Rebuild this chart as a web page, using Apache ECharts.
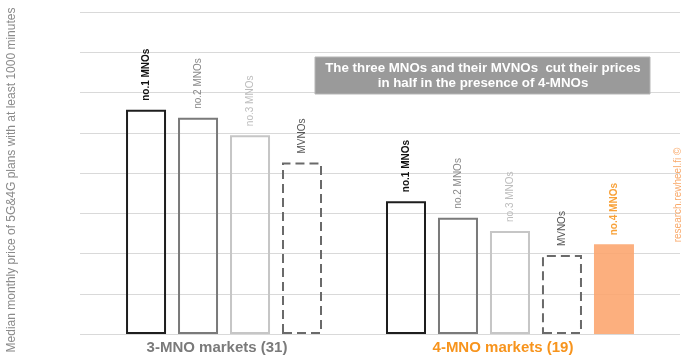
<!DOCTYPE html>
<html>
<head>
<meta charset="utf-8">
<script src="https://cdn.jsdelivr.net/npm/echarts@6/dist/echarts.min.js"></script>
<style>
  html, body { margin: 0; padding: 0; background: #fff; }
  #chart { width: 682px; height: 358px; }
</style>
</head>
<body>
<div id="chart"></div>
<script>
// Median monthly price, 5G&4G plans with >= 1000 minutes (in gridline units)
const groupNames = ['3-MNO markets (31)', '4-MNO markets (19)'];
const threeMnoTiers = ['no.1 MNOs', 'no.2 MNOs', 'no.3 MNOs', 'MVNOs'];
const threeMnoValues = [5.57, 5.37, 4.94, 4.26];
const fourMnoTiers = ['no.1 MNOs', 'no.2 MNOs', 'no.3 MNOs', 'MVNOs', 'no.4 MNOs'];
const fourMnoValues = [3.30, 2.89, 2.56, 1.96, 2.23];
const noteLines = ['The three MNOs and their MVNOs  cut their prices', 'in half in the presence of 4-MNOs'];
const yTitle = 'Median monthly price of 5G&4G plans with at least 1000 minutes';
const credit = 'research.rewheel.fi ©';

const FONT = '"Liberation Sans", Arial, sans-serif';
const ORANGE = '#f7941d';

// look of each operator tier
const tierStyle = {
  'no.1 MNOs': { item: { color: 'transparent', borderColor: '#1e1e1e', borderWidth: 2 }, label: { color: '#111', fontWeight: 'bold' } },
  'no.2 MNOs': { item: { color: 'transparent', borderColor: '#7a7a7a', borderWidth: 2 }, label: { color: '#8a8a8a', fontWeight: 'normal' } },
  'no.3 MNOs': { item: { color: 'transparent', borderColor: '#c6c6c6', borderWidth: 2 }, label: { color: '#bdbdbd', fontWeight: 'normal' } },
  'MVNOs':     { item: { color: 'transparent', borderColor: '#6a6a6a', borderWidth: 2, borderType: [9, 5] }, label: { color: '#555', fontWeight: 'normal' } },
  'no.4 MNOs': { item: { color: '#fca46c', opacity: 0.88, borderWidth: 0 }, label: { color: ORANGE, fontWeight: 'bold' } }
};

// slot positions along the x axis: one empty slot between the two market groups
const groups = [
  { tiers: threeMnoTiers, values: threeMnoValues, start: 0 },
  { tiers: fourMnoTiers, values: fourMnoValues, start: threeMnoTiers.length + 1 }
];
const barData = [];
groups.forEach(g => {
  g.tiers.forEach((t, i) => {
    const st = tierStyle[t];
    barData.push({
      value: [g.start + i, g.values[i]],
      itemStyle: st.item,
      label: Object.assign({ formatter: t }, st.label)
    });
  });
});
const lastSlot = groups[1].start + fourMnoTiers.length - 1;

const chart = echarts.init(document.getElementById('chart'), null, { renderer: 'canvas' });
chart.setOption({
  animation: false,
  backgroundColor: '#fff',
  grid: { left: 80, right: 2, top: 12, bottom: 24 },
  xAxis: {
    type: 'value',
    min: -1.27,
    max: lastSlot + 1.27,
    axisLine: { show: false },
    axisTick: { show: false },
    axisLabel: { show: false },
    splitLine: { show: false }
  },
  yAxis: {
    type: 'value',
    min: 0,
    max: 8,
    interval: 1,
    axisLine: { show: false },
    axisTick: { show: false },
    axisLabel: { show: false },
    splitLine: { show: true, lineStyle: { color: '#d9d9d9', width: 1 } }
  },
  series: [{
    type: 'bar',
    barWidth: 40,
    data: barData,
    label: {
      show: true,
      position: 'top',
      distance: 9,
      rotate: 90,
      align: 'left',
      verticalAlign: 'middle',
      fontFamily: FONT,
      fontSize: 10
    }
  }]
});

// group captions centred beneath each market group
function groupCenter(g) {
  const a = chart.convertToPixel({ xAxisIndex: 0 }, g.start);
  const b = chart.convertToPixel({ xAxisIndex: 0 }, g.start + g.tiers.length - 1);
  return (a + b) / 2;
}
const captionColors = ['#7a7a7a', ORANGE];

chart.setOption({
  graphic: [
    {
      type: 'text',
      rotation: Math.PI / 2,
      x: 12, y: 180,
      style: { text: yTitle, fill: '#8a8a8a', font: '12px ' + FONT, align: 'center', verticalAlign: 'middle' }
    },
    {
      type: 'rect', shape: { x: 315, y: 57, width: 335, height: 37 },
      style: { fill: '#9a9a9a', stroke: '#b5b5b5', lineWidth: 1 }
    },
    {
      type: 'text', x: 483, y: 75.5,
      style: {
        text: noteLines.join('\n'), fill: '#fff', font: 'bold 13.3px ' + FONT,
        align: 'center', verticalAlign: 'middle', lineHeight: 15
      }
    },
    {
      type: 'text', x: 678, y: 195, rotation: Math.PI / 2,
      style: { text: credit, fill: '#f9a868', font: '10px ' + FONT, align: 'center', verticalAlign: 'middle' }
    }
  ].concat(groups.map((g, i) => ({
    type: 'text', x: groupCenter(g) - 7, y: 348,
    style: { text: groupNames[i], fill: captionColors[i], font: 'bold 15px ' + FONT, align: 'center', verticalAlign: 'middle' }
  })))
});
</script>
</body>
</html>
